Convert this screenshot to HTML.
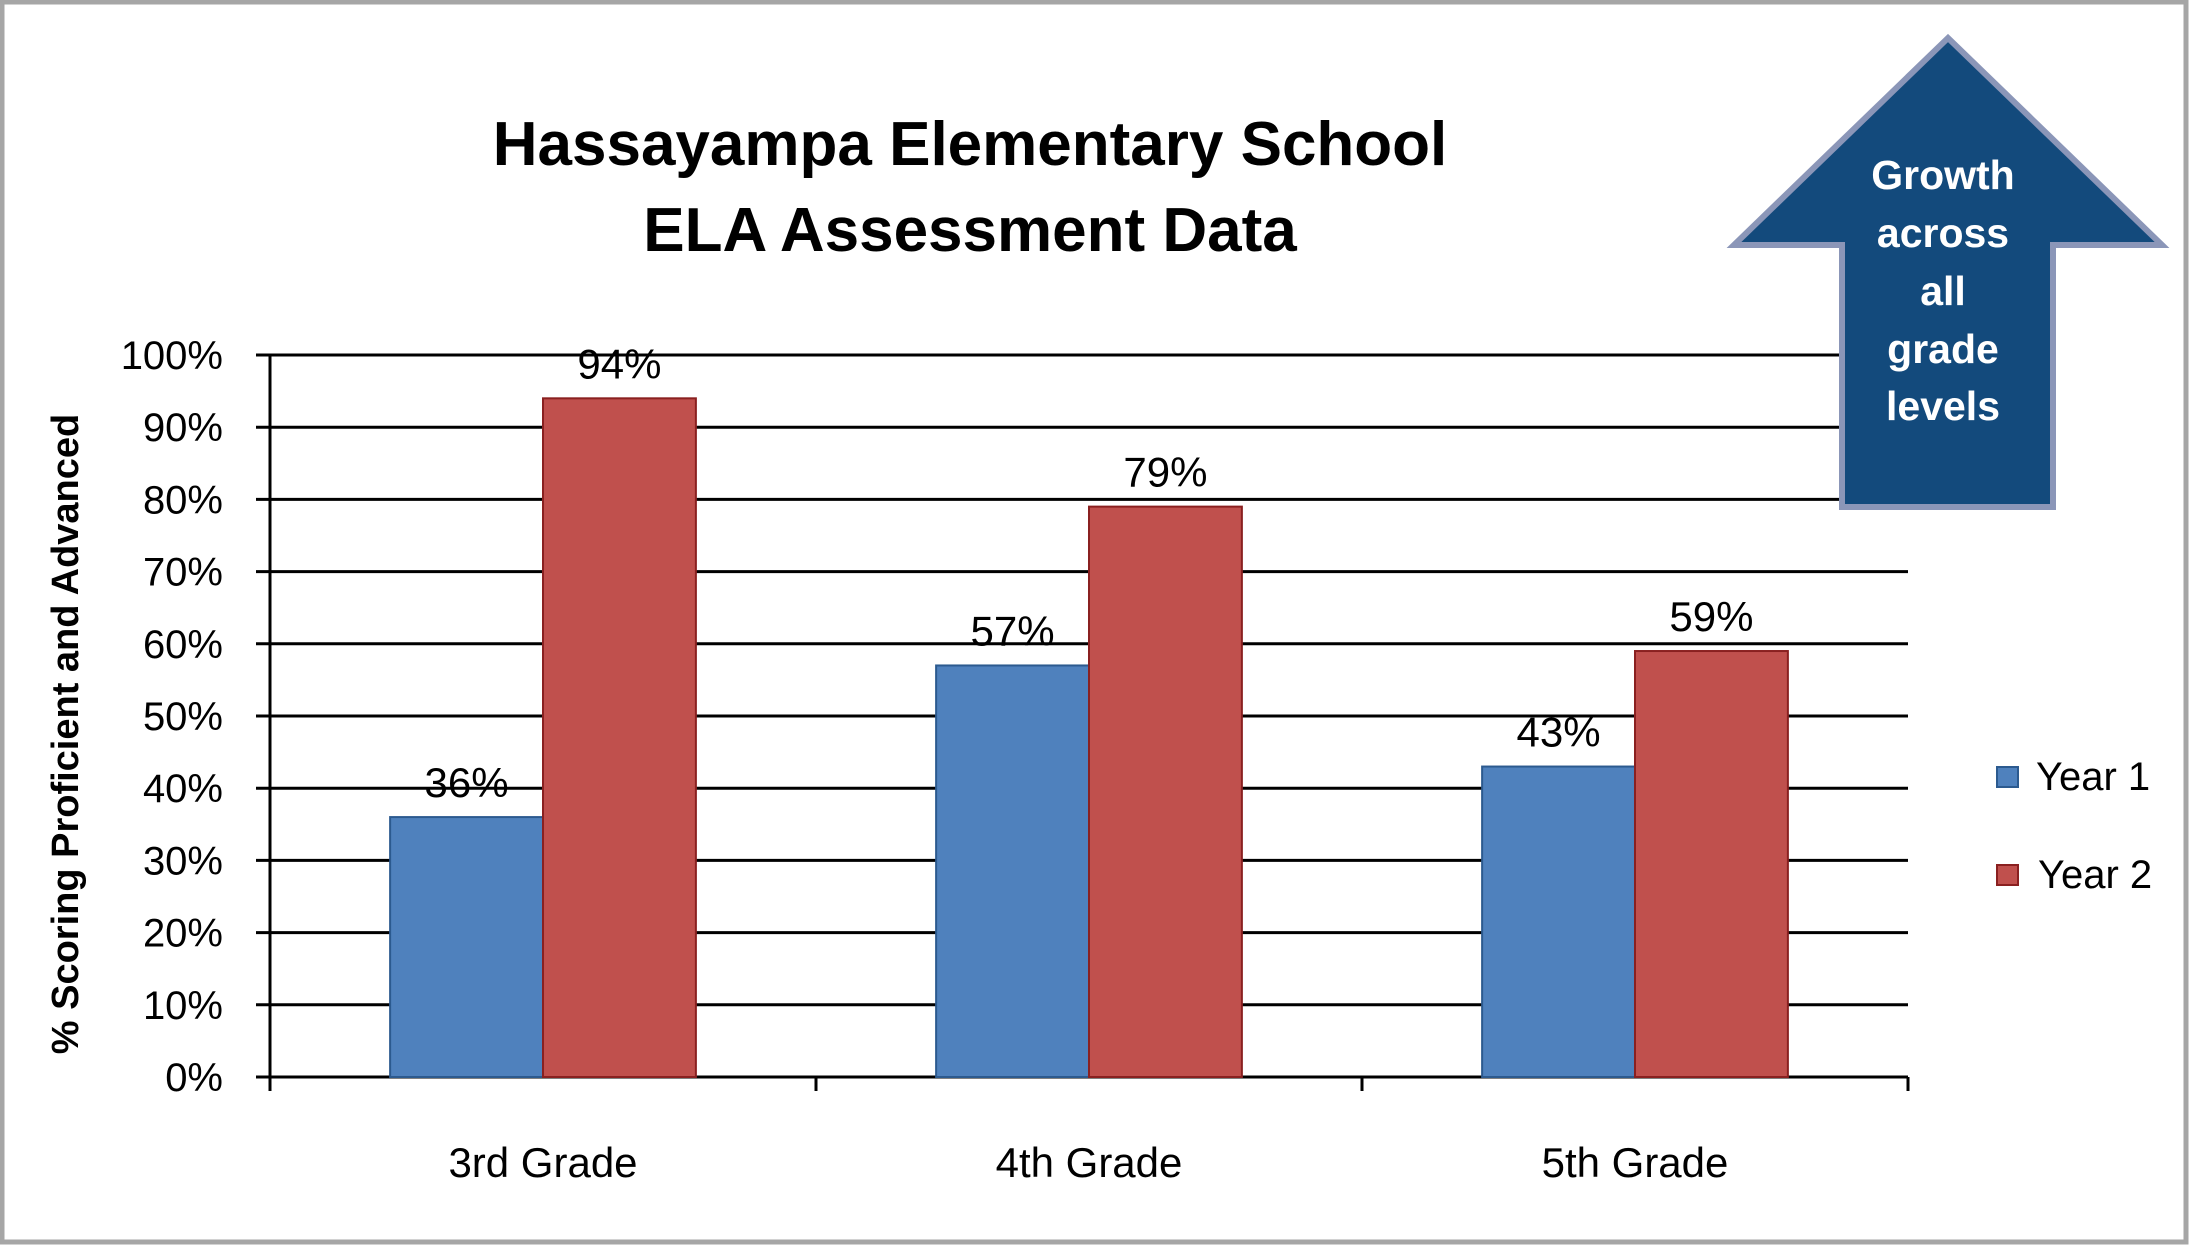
<!DOCTYPE html>
<html><head><meta charset="utf-8"><style>
html,body{margin:0;padding:0;background:#fff;}
svg{display:block;font-family:"Liberation Sans",sans-serif;}
</style></head><body>
<svg id="chart" width="2192" height="1246" viewBox="0 0 2192 1246">
<rect x="2" y="2" width="2184" height="1240" fill="#fff" stroke="#a6a6a6" stroke-width="5"/>
<g font-weight="bold" font-size="62" text-anchor="middle" fill="#000">
<text x="970" y="165">Hassayampa Elementary School</text>
<text x="970" y="251">ELA Assessment Data</text>
</g>
<g id="grid"></g>
<g id="yticks"></g>
<g id="bars"></g>
<g id="labels"></g>
<g id="xaxis"></g>
<text transform="translate(78,734) rotate(-90)" text-anchor="middle" font-size="38" font-weight="bold">% Scoring Proficient and Advanced</text>
<g>
<g>
<rect x="1997" y="767" width="21" height="20" fill="#4f81bd" stroke="#2c5a8f" stroke-width="2"/>
<text x="2036" y="790" font-size="40">Year 1</text>
</g>
<g>
<rect x="1997" y="865" width="21" height="20" fill="#c0504d" stroke="#8a2020" stroke-width="2"/>
<text x="2038" y="888" font-size="40">Year 2</text>
</g>
</g>
<g>
<polygon points="1948,38 2162,245 2053,245 2053,507 1842,507 1842,245 1734,245" fill="#134a7c" stroke="#8b96b8" stroke-width="6" stroke-linejoin="miter"/>
<g fill="#fff" font-weight="bold" font-size="41" text-anchor="middle">
<text x="1943" y="189">Growth</text>
<text x="1943" y="247">across</text>
<text x="1943" y="305">all</text>
<text x="1943" y="363">grade</text>
<text x="1943" y="420">levels</text>
</g>
</g>
</svg>
<script>
const categories = ["3rd Grade","4th Grade","5th Grade"];
const year1 = [36,57,43];
const year2 = [94,79,59];
const yTicks = [0,10,20,30,40,50,60,70,80,90,100];

const NS="http://www.w3.org/2000/svg";
const X0=270, X1=1908, Y0=1077, Y1=355;
const yScale=v=>Y0-(v/100)*(Y0-Y1);
const catW=(X1-X0)/categories.length;
const barW=catW*0.28;
function mk(tag,attrs,parent){const e=document.createElementNS(NS,tag);for(const k in attrs)e.setAttribute(k,attrs[k]);parent.appendChild(e);return e;}
const grid=document.getElementById('grid'), yt=document.getElementById('yticks');
yTicks.forEach(t=>{
  const y=yScale(t);
  const l=mk('line',{x1:X0-14,x2:X1,y1:y,y2:y,stroke:'#000','stroke-width':3},grid);
  
  
  const tx=mk('text',{x:223,y:y+14,'text-anchor':'end','font-size':40},yt);
  tx.textContent=t+'%';
  
  
});
const bars=document.getElementById('bars'), labels=document.getElementById('labels'), xa=document.getElementById('xaxis');
const series=[{vals:year1,fill:'#4f81bd',stroke:'#2c5a8f',name:'year-1'},{vals:year2,fill:'#c0504d',stroke:'#8a2020',name:'year-2'}];
categories.forEach((c,i)=>{
  const cx=X0+catW*(i+0.5);
  series.forEach((s,j)=>{
    const v=s.vals[i];
    const x=cx-barW+j*barW;
    const r=mk('rect',{x:x,y:yScale(v),width:barW,height:Y0-yScale(v),fill:s.fill,stroke:s.stroke,'stroke-width':2},bars);
    
    
    const t=mk('text',{x:x+barW/2,y:yScale(v)-20,'text-anchor':'middle','font-size':42},labels);
    t.textContent=v+'%';
    
    
  });
  const lb=mk('text',{x:cx,y:1177,'text-anchor':'middle','font-size':42},xa);
  lb.textContent=c;
  
  
});
for(let i=0;i<=categories.length;i++){
  const x=X0+catW*i;
  const tk=mk('line',{x1:x,x2:x,y1:Y0,y2:Y0+14,stroke:'#000','stroke-width':3},xa);
  
  
}
const ax=mk('line',{x1:X0,x2:X0,y1:Y1,y2:Y0+14,stroke:'#000','stroke-width':3},xa);


</script>
</body></html>
